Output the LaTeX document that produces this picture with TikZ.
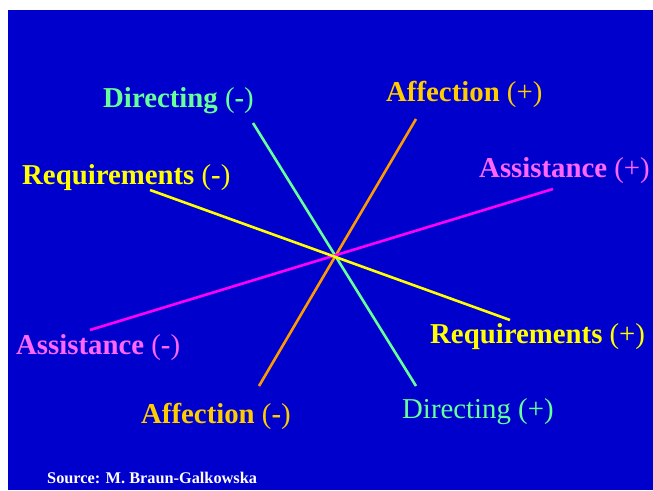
\documentclass[tikz,border=0pt]{standalone}
\usepackage{fontspec}
\setmainfont{Liberation Serif}

\definecolor{slideblue}{RGB}{0,0,204}
\definecolor{dirgreen}{RGB}{102,255,153}
\definecolor{affline}{RGB}{255,153,0}
\definecolor{afftext}{RGB}{255,204,0}
\definecolor{reqyellow}{RGB}{255,255,0}
\definecolor{assline}{RGB}{255,0,255}
\definecolor{asstext}{RGB}{255,102,255}

\tikzset{
  axis/.style={line width=2.6pt},
  pole/.style={anchor=base west, inner sep=0pt, font=\fontsize{28.8}{30}\selectfont},
}

\begin{document}
\begin{tikzpicture}[x=1pt, y=-1pt]

    % Page and slide background
    \useasboundingbox (0,0) rectangle (653,490);
    \fill[white] (0,0) rectangle (653,490);
    \fill[slideblue] (8,10) rectangle (653,490);

    % Define the end points of the four axes
    \coordinate (dirM) at (253,123);
    \coordinate (dirP) at (416,386);
    \coordinate (affP) at (416,119);
    \coordinate (affM) at (259,386);
    \coordinate (assP) at (553,189);
    \coordinate (assM) at (90,330);
    \coordinate (reqM) at (150,190);
    \coordinate (reqP) at (510,320);

    % Draw the axes
    \draw[axis, dirgreen] (dirM) -- (dirP);
    \draw[axis, affline] (affP) -- (affM);
    \draw[axis, assline] (assM) -- (assP);
    \draw[axis, reqyellow] (reqM) -- (reqP);

    % Add labels for the poles
    \node[pole, text=dirgreen] (labDirM) at (103,107) {\textbf{Directing} (\textbf{-})};
    \node[pole, text=dirgreen] (labDirP) at (402,418) {Directing (+)};
    \node[pole, text=afftext] (labAffP) at (386,101) {\textbf{Affection} (+)};
    \node[pole, text=afftext] (labAffM) at (141,423) {\textbf{Affection} (\textbf{-})};
    \node[pole, text=reqyellow] (labReqM) at (22,184) {\textbf{Requirements} (\textbf{-})};
    \node[pole, text=reqyellow] (labReqP) at (430,343) {\textbf{Requirements} (+)};
    \node[pole, text=asstext] (labAssP) at (479,177) {\textbf{Assistance} (+)};
    \node[pole, text=asstext] (labAssM) at (16,354) {\textbf{Assistance} (\textbf{-})};

    % Add source line
    \node[anchor=base west, inner sep=0pt, text=white, font=\fontsize{16.3}{18}\selectfont\bfseries] (src) at (47,483) {Source: M. Braun-Galkowska};

\end{tikzpicture}
\end{document}
